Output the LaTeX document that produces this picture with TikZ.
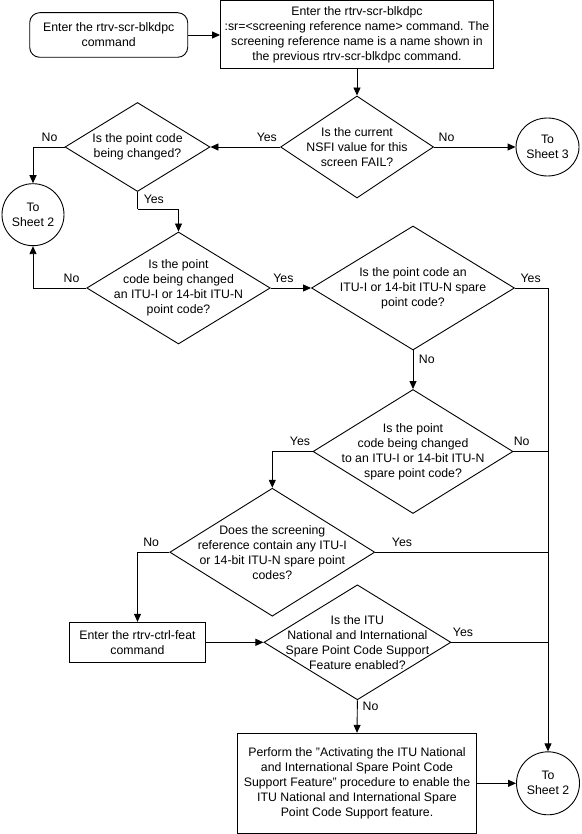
\documentclass[tikz,border=0pt]{standalone}
\usepackage{fontspec}
\setmainfont{Liberation Sans}
\usetikzlibrary{shapes.geometric,arrows.meta}
\begin{document}
\begin{tikzpicture}[x=1pt,y=-1pt,
  every node/.style={font=\fontsize{12.3}{15}\selectfont},
  line/.style={draw, line width=0.9pt},
  arr/.style={line, -{Triangle[length=8pt,width=7pt]}},
  box/.style={draw, line width=0.9pt, rectangle, inner sep=0pt, align=center},
  dia/.style={draw, line width=0.9pt, diamond, inner sep=0pt},
  txt/.style={align=center, inner sep=0pt},
  conn/.style={draw, line width=0.9pt, ellipse, inner sep=0pt, align=center},
  lbl/.style={inner sep=0pt}
]
\useasboundingbox (0,0) rectangle (581,834);

% process boxes
\node[box, rounded corners=10pt, minimum width=158pt, minimum height=44.6pt] (start) at (108.7,35) {Enter the rtrv-scr-blkdpc\\command};
\node[box, minimum width=273pt, minimum height=68pt] (b2) at (357,34.5) {Enter the rtrv-scr-blkdpc\\:sr=<screening reference name> command. The\\screening reference name is a name shown in\\the previous rtrv-scr-blkdpc command.};
\node[box, minimum width=136pt, minimum height=40pt] (bc) at (137.5,642.3) {Enter the rtrv-ctrl-feat\\command};
\node[box, minimum width=239pt, minimum height=100pt] (fb) at (357,783.3) {Perform the "Activating the ITU National\\and International Spare Point Code\\Support Feature" procedure to enable the\\ITU National and International Spare\\Point Code Support feature.};

% decisions
\node[dia, minimum width=153pt, minimum height=102pt] (d1) at (357,147) {};
\node[txt] (t1) at (d1) {Is the current\\NSFI value for this\\screen FAIL?};
\node[dia, minimum width=145pt, minimum height=89pt] (d2) at (137.5,147) {};
\node[txt] (t2) at (d2) {Is the point code\\being changed?};
\node[dia, minimum width=183.5pt, minimum height=112pt] (d3) at (178.5,288) {};
\node[txt] (t3) at (d3) {Is the point\\code being changed\\an ITU-I or 14-bit ITU-N\\point code?};
\node[dia, minimum width=203pt, minimum height=124pt] (d4) at (413,288) {};
\node[txt] (t4) at (d4) {Is the point code an\\ITU-I or 14-bit ITU-N spare\\point code?};
\node[dia, minimum width=200pt, minimum height=124pt] (d5) at (413,451.5) {};
\node[txt] (t5) at (d5) {Is the point\\code being changed\\to an ITU-I or 14-bit ITU-N\\spare point code?};
\node[dia, minimum width=205pt, minimum height=128pt] (d6) at (272.3,552.2) {};
\node[txt] (t6) at (d6) {Does the screening\\reference contain any ITU-I\\or 14-bit ITU-N spare point\\codes?};
\node[dia, minimum width=187pt, minimum height=115pt] (d7) at (357.4,642.3) {};
\node[txt] (t7) at (d7) {Is the ITU\\National and International\\Spare Point Code Support\\Feature enabled?};

% connectors (off-page)
\node[conn, minimum width=63pt, minimum height=58pt] (s3) at (547.5,147) {To\\Sheet 3};
\node[conn, minimum width=62pt, minimum height=62pt] (s2a) at (33,214.7) {To\\Sheet 2};
\node[conn, minimum width=63pt, minimum height=63pt] (s2b) at (548,783.3) {To\\Sheet 2};

\coordinate (rail) at (548,288);
\coordinate (bend2) at (137.5,209.3);

% connectors
\draw[arr] (start.east) -- (start.east -| b2.west);
\draw[arr] (b2) -- (d1);
\draw[arr] (d1.west) -- (d2.east);
\draw[arr] (d1.east) -- (s3.west);
\draw[arr] (d2.west) -| (s2a.north);
\draw[line] (d2.south) -- (bend2);
\draw[arr] (bend2) -| (d3.north);
\draw[arr] (d3.west) -| (s2a.south);
\draw[arr] (d3.east) -- (d4.west);
\draw[line] (d4.east) -- (rail);
\draw[arr] (rail) -- (s2b.north);
\draw[arr] (d4.south) -- (d5.north);
\draw[arr] (d5.west) -| (d6.north);
\draw[line] (d5.east) -- (d5.east -| rail);
\draw[arr] (d6.west) -| (bc.north);
\draw[line] (d6.east) -- (d6.east -| rail);
\draw[arr] (bc.east) -- (d7.west);
\draw[line] (d7.east) -- (d7.east -| rail);
\draw[arr] (d7.south) -- (fb.north);
\draw[arr] (fb.east) -- (fb.east -| s2b.west);

% labels
\node[lbl] (l1) at (266.8,137) {Yes};
\node[lbl] (l2) at (446.5,137) {No};
\node[lbl] (l3) at (49.6,137) {No};
\node[lbl] (l4) at (153.8,199) {Yes};
\node[lbl] (l5) at (71.5,278) {No};
\node[lbl] (l6) at (283.4,278) {Yes};
\node[lbl] (l7) at (530.6,278) {Yes};
\node[lbl] (l8) at (426.8,359.3) {No};
\node[lbl] (l9) at (300,441.7) {Yes};
\node[lbl] (l10) at (521.7,441.7) {No};
\node[lbl] (l11) at (151.2,542) {No};
\node[lbl] (l12) at (402,542) {Yes};
\node[lbl] (l13) at (463,632.3) {Yes};
\node[lbl] (l14) at (370.5,706) {No};
\end{tikzpicture}
\end{document}
